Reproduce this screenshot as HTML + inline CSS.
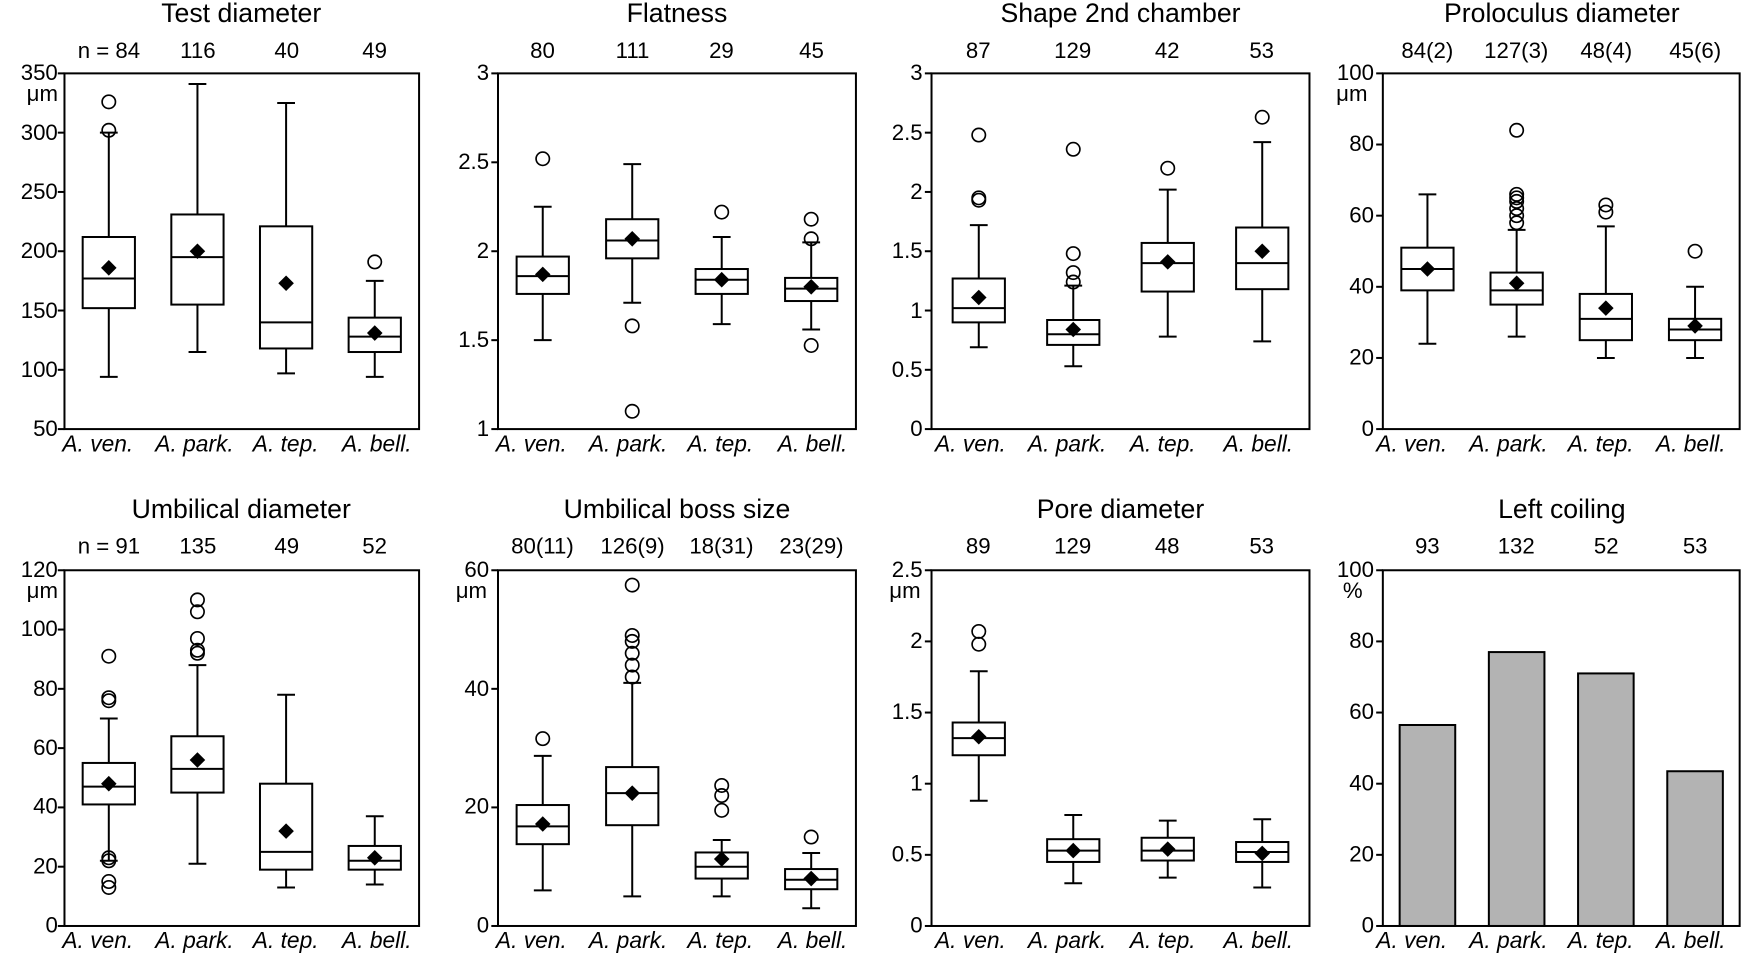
<!DOCTYPE html>
<html><head><meta charset="utf-8"><style>
html,body{margin:0;padding:0;background:#fff;}
svg{display:block;}
text{font-family:"Liberation Sans",Arial,sans-serif;fill:#000;}
.t{font-size:24px;text-anchor:middle;}
.n{font-size:20px;text-anchor:middle;}
.y{font-size:20px;text-anchor:end;}
.u{font-size:20px;}
.c{font-size:20.5px;font-style:italic;text-anchor:middle;}
</style></head><body>
<svg id="s" width="1743" height="956" viewBox="0 0 1568 860" xmlns="http://www.w3.org/2000/svg">
<g id="g" stroke="#000" stroke-width="1.8" fill="none"></g>
<text class="t" x="217" y="20">Test diameter</text>
<text class="t" x="609" y="20">Flatness</text>
<text class="t" x="1008" y="20">Shape 2nd chamber</text>
<text class="t" x="1405" y="20">Proloculus diameter</text>
<text class="t" x="217" y="466">Umbilical diameter</text>
<text class="t" x="609" y="466">Umbilical boss size</text>
<text class="t" x="1008" y="466">Pore diameter</text>
<text class="t" x="1405" y="466">Left coiling</text>
<text class="n" x="98" y="52">n = 84</text><text class="n" x="178" y="52">116</text><text class="n" x="258" y="52">40</text><text class="n" x="337" y="52">49</text>
<text class="n" x="488" y="52">80</text><text class="n" x="569" y="52">111</text><text class="n" x="649" y="52">29</text><text class="n" x="730" y="52">45</text>
<text class="n" x="880" y="52">87</text><text class="n" x="965" y="52">129</text><text class="n" x="1050" y="52">42</text><text class="n" x="1135" y="52">53</text>
<text class="n" x="1284" y="52">84(2)</text><text class="n" x="1364" y="52">127(3)</text><text class="n" x="1445" y="52">48(4)</text><text class="n" x="1525" y="52">45(6)</text>
<text class="n" x="98" y="498">n = 91</text><text class="n" x="178" y="498">135</text><text class="n" x="258" y="498">49</text><text class="n" x="337" y="498">52</text>
<text class="n" x="488" y="498">80(11)</text><text class="n" x="569" y="498">126(9)</text><text class="n" x="649" y="498">18(31)</text><text class="n" x="730" y="498">23(29)</text>
<text class="n" x="880" y="498">89</text><text class="n" x="965" y="498">129</text><text class="n" x="1050" y="498">48</text><text class="n" x="1135" y="498">53</text>
<text class="n" x="1284" y="498">93</text><text class="n" x="1364" y="498">132</text><text class="n" x="1445" y="498">52</text><text class="n" x="1525" y="498">53</text>
<text class="y" x="52" y="72">350</text><text class="y" x="52" y="126">300</text><text class="y" x="52" y="179">250</text><text class="y" x="52" y="232">200</text><text class="y" x="52" y="286">150</text><text class="y" x="52" y="339">100</text><text class="y" x="52" y="392">50</text>
<text class="u" x="24" y="91">μm</text>
<text class="y" x="440" y="72">3</text><text class="y" x="440" y="152">2.5</text><text class="y" x="440" y="232">2</text><text class="y" x="440" y="312">1.5</text><text class="y" x="440" y="392">1</text>
<text class="y" x="830" y="72">3</text><text class="y" x="830" y="126">2.5</text><text class="y" x="830" y="179">2</text><text class="y" x="830" y="232">1.5</text><text class="y" x="830" y="286">1</text><text class="y" x="830" y="339">0.5</text><text class="y" x="830" y="392">0</text>
<text class="y" x="1236" y="72">100</text><text class="y" x="1236" y="136">80</text><text class="y" x="1236" y="200">60</text><text class="y" x="1236" y="264">40</text><text class="y" x="1236" y="328">20</text><text class="y" x="1236" y="392">0</text>
<text class="u" x="1202" y="91">μm</text>
<text class="y" x="52" y="519">120</text><text class="y" x="52" y="572">100</text><text class="y" x="52" y="626">80</text><text class="y" x="52" y="679">60</text><text class="y" x="52" y="732">40</text><text class="y" x="52" y="786">20</text><text class="y" x="52" y="839">0</text>
<text class="u" x="24" y="538">μm</text>
<text class="y" x="440" y="519">60</text><text class="y" x="440" y="626">40</text><text class="y" x="440" y="732">20</text><text class="y" x="440" y="839">0</text>
<text class="u" x="410" y="538">μm</text>
<text class="y" x="830" y="519">2.5</text><text class="y" x="830" y="583">2</text><text class="y" x="830" y="647">1.5</text><text class="y" x="830" y="711">1</text><text class="y" x="830" y="775">0.5</text><text class="y" x="830" y="839">0</text>
<text class="u" x="800" y="538">μm</text>
<text class="y" x="1236" y="519">100</text><text class="y" x="1236" y="583">80</text><text class="y" x="1236" y="647">60</text><text class="y" x="1236" y="711">40</text><text class="y" x="1236" y="775">20</text><text class="y" x="1236" y="839">0</text>
<text class="u" x="1208" y="538">%</text>
<g>
<text class="c" x="88" y="406">A. ven.</text><text class="c" x="175" y="406">A. park.</text><text class="c" x="257" y="406">A. tep.</text><text class="c" x="339" y="406">A. bell.</text>
<text class="c" x="478" y="406">A. ven.</text><text class="c" x="565" y="406">A. park.</text><text class="c" x="648" y="406">A. tep.</text><text class="c" x="731" y="406">A. bell.</text>
<text class="c" x="873" y="406">A. ven.</text><text class="c" x="960" y="406">A. park.</text><text class="c" x="1046" y="406">A. tep.</text><text class="c" x="1132" y="406">A. bell.</text>
<text class="c" x="1270" y="406">A. ven.</text><text class="c" x="1357" y="406">A. park.</text><text class="c" x="1440" y="406">A. tep.</text><text class="c" x="1521" y="406">A. bell.</text>
<text class="c" x="88" y="853">A. ven.</text><text class="c" x="175" y="853">A. park.</text><text class="c" x="257" y="853">A. tep.</text><text class="c" x="339" y="853">A. bell.</text>
<text class="c" x="478" y="853">A. ven.</text><text class="c" x="565" y="853">A. park.</text><text class="c" x="648" y="853">A. tep.</text><text class="c" x="731" y="853">A. bell.</text>
<text class="c" x="873" y="853">A. ven.</text><text class="c" x="960" y="853">A. park.</text><text class="c" x="1046" y="853">A. tep.</text><text class="c" x="1132" y="853">A. bell.</text>
<text class="c" x="1270" y="853">A. ven.</text><text class="c" x="1357" y="853">A. park.</text><text class="c" x="1440" y="853">A. tep.</text><text class="c" x="1521" y="853">A. bell.</text>
</g>
</svg>
<script>
var g=document.getElementById('g'),NS='http://www.w3.org/2000/svg';
function el(t,a){var e=document.createElementNS(NS,t);for(var k in a)e.setAttribute(k,a[k]);g.appendChild(e);return e;}
function line(x1,y1,x2,y2){el('line',{x1:x1,y1:y1,x2:x2,y2:y2});}
var P=[
 {x0:58,x1:377,top:66,bot:386,lo:50,hi:350,step:50,d:[[94,152,177,212,300,186,[326,302]],[115,155,195,231,341,200,[]],[97,118,140,221,325,173,[]],[94,115,128,144,175,131,[191]]]},
 {x0:448,x1:770,top:66,bot:386,lo:1,hi:3,step:.5,d:[[1.5,1.76,1.86,1.97,2.25,1.87,[2.52]],[1.71,1.96,2.06,2.18,2.49,2.07,[1.58,1.1]],[1.59,1.76,1.84,1.9,2.08,1.84,[2.22]],[1.56,1.72,1.79,1.85,2.05,1.8,[2.07,2.18,1.47]]]},
 {x0:838,x1:1178,top:66,bot:386,lo:0,hi:3,step:.5,d:[[.69,.9,1.02,1.27,1.72,1.11,[1.93,1.95,2.48]],[.53,.71,.8,.92,1.21,.84,[1.24,1.32,1.48,2.36]],[.78,1.16,1.4,1.57,2.02,1.41,[2.2]],[.74,1.18,1.4,1.7,2.42,1.5,[2.63]]]},
 {x0:1244,x1:1565,top:66,bot:386,lo:0,hi:100,step:20,d:[[24,39,45,51,66,45,[]],[26,35,39,44,56,41,[58,60,62,64,65,66,84]],[20,25,31,38,57,34,[61,63]],[20,25,28,31,40,29,[50]]]},
 {x0:58,x1:377,top:513,bot:833,lo:0,hi:120,step:20,d:[[22,41,47,55,70,48,[13,15,22,23,76,77,91]],[21,45,53,64,88,56,[92,93,97,106,110]],[13,19,25,48,78,32,[]],[14,19,22,27,37,23,[]]]},
 {x0:448,x1:770,top:513,bot:833,lo:0,hi:60,step:20,d:[[6,13.8,16.8,20.4,28.7,17.2,[31.6]],[5,17,22.4,26.8,41,22.4,[42,44,46,48,49,57.5]],[5,8,10,12.4,14.5,11.3,[19.5,22,23.7]],[3,6.2,7.8,9.6,12.3,8,[15]]]},
 {x0:838,x1:1178,top:513,bot:833,lo:0,hi:2.5,step:.5,d:[[.88,1.2,1.32,1.43,1.79,1.33,[1.98,2.07]],[.3,.45,.53,.61,.78,.53,[]],[.34,.46,.53,.62,.74,.54,[]],[.27,.45,.52,.59,.75,.51,[]]]},
 {x0:1244,x1:1565,top:513,bot:833,lo:0,hi:100,step:20,bars:[56.5,77,71,43.5]}
];
P.forEach(function(p){
 var Y=function(v){return p.bot-(v-p.lo)/(p.hi-p.lo)*(p.bot-p.top);};
 var w=p.x1-p.x0;
 for(var v=p.lo;v<=p.hi+1e-9;v+=p.step){var y=Y(v);line(p.x0-6,y,p.x0,y);}
 for(var i=0;i<4;i++){
  var cx=p.x0+w*(2*i+1)/8,hw=23.5,cw=8;
  if(p.bars){var y=Y(p.bars[i]);el('rect',{x:cx-25,y:y,width:50,height:p.bot-y,fill:'#b3b3b3'});continue;}
  var d=p.d[i];
  line(cx,Y(d[0]),cx,Y(d[1]));line(cx,Y(d[3]),cx,Y(d[4]));
  line(cx-cw,Y(d[0]),cx+cw,Y(d[0]));line(cx-cw,Y(d[4]),cx+cw,Y(d[4]));
  el('rect',{x:cx-hw,y:Y(d[3]),width:2*hw,height:Y(d[1])-Y(d[3])});
  line(cx-hw,Y(d[2]),cx+hw,Y(d[2]));
  d[6].forEach(function(o){el('circle',{cx:cx,cy:Y(o),r:6,'stroke-width':1.5});});
  var my=Y(d[5]);el('polygon',{points:(cx-7)+','+my+' '+cx+','+(my-7)+' '+(cx+7)+','+my+' '+cx+','+(my+7),fill:'#000',stroke:'none'});
 }
 el('rect',{x:p.x0,y:p.top,width:w,height:p.bot-p.top});
});
</script>
</body></html>
